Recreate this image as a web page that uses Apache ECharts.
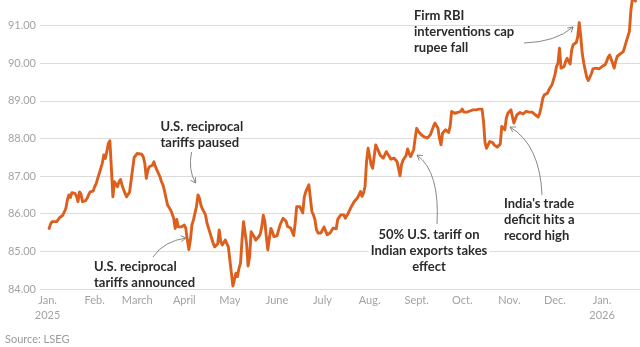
<!DOCTYPE html>
<html><head><meta charset="utf-8">
<script src="https://cdn.jsdelivr.net/npm/echarts@6/dist/echarts.min.js"></script>
<style>html,body{margin:0;padding:0;background:#fff}#c{width:640px;height:347px}</style>
</head><body><div id="c"></div>
<script>
// Day offsets counted from 2025-01-01 (trading days)
const dayOffsets = [1,2,3,6,7,8,9,10,12,13,14,15,16,17,18,19,20,21,22,23,24,25,26,27,28,30,31,32,33,34,35,36,37,38,39,40,41,42,43,44,45,46,47,48,49,50,51,52,53,54,55,56,57,59,60,62,63,64,65,66,67,69,70,71,72,73,74,75,76,77,78,79,81,82,83,84,85,86,87,88,89,90,91,92,93,94,95,96,97,98,99,100,101,102,103,104,105,106,107,108,109,110,111,112,113,114,115,116,117,118,119,120,121,122,123,124,125,126,127,128,129,130,131,132,133,134,135,136,137,138,139,140,141,142,143,144,145,146,147,148,149,150,151,152,153,154,155,156,157,158,160,161,162,163,164,165,166,167,168,169,170,171,172,173,174,175,176,177,178,179,180,181,182,183,184,185,186,188,189,190,191,193,194,195,196,197,198,199,200,201,202,203,204,206,207,208,209,210,211,212,213,214,215,216,217,218,219,220,221,222,223,224,225,226,227,228,229,230,231,232,233,234,235,236,237,238,239,240,241,242,243,244,245,246,247,248,250,251,252,253,254,255,256,257,258,259,260,261,262,263,264,265,266,267,268,269,270,271,272,273,274,275,276,277,278,279,280,281,282,284,285,286,287,288,289,290,291,292,293,294,295,296,297,298,299,300,301,302,303,304,305,306,307,308,309,310,311,312,313,314,315,316,317,318,319,320,321,322,323,324,325,326,327,328,329,330,331,332,333,334,335,336,337,338,339,340,341,342,343,344,345,346,347,348,349,350,351,352,353,354,355,356,357,358,359,361,362,363,364,365,366,367,368,369,370,371,372,373,374,375,376,377,378,379,380,381,382,383,384,385,387];
// Rupees per U.S. dollar
const rates = [85.61,85.73,85.79,85.79,85.83,85.90,85.87,85.96,86.14,86.36,86.50,86.43,86.56,86.58,86.54,86.47,86.32,86.58,86.52,86.32,86.34,86.35,86.41,86.50,86.58,86.60,86.72,86.80,86.94,87.07,87.12,87.34,87.56,87.47,87.65,87.87,87.94,87.20,86.45,86.85,86.80,86.72,86.85,86.91,86.76,86.73,86.54,86.45,86.47,86.58,86.89,87.20,87.50,87.60,87.60,87.58,87.51,87.34,86.94,87.16,87.25,87.29,87.38,87.25,87.16,87.07,86.98,86.85,86.76,86.60,86.41,86.23,86.10,86.00,85.88,85.61,85.85,85.65,85.67,85.65,85.65,85.70,85.61,85.30,85.05,85.30,85.70,85.83,85.88,86.19,86.50,86.41,86.22,86.12,86.05,85.96,85.74,85.61,85.48,85.35,85.21,85.12,85.08,85.20,85.57,85.26,85.17,85.21,85.30,85.26,85.12,84.77,84.42,84.08,84.25,84.42,84.33,84.55,84.68,85.30,85.79,85.74,85.20,84.61,84.86,85.52,85.57,85.39,85.30,85.34,85.39,85.46,85.65,85.96,85.80,85.39,85.04,85.35,85.61,85.52,85.39,85.35,85.41,85.43,85.70,85.66,85.88,85.93,85.80,85.66,85.62,85.58,85.42,85.75,86.19,86.22,86.19,86.24,86.02,86.45,86.59,86.68,86.77,86.75,86.06,85.97,85.84,85.58,85.49,85.47,85.49,85.53,85.65,85.60,85.44,85.40,85.49,85.62,85.66,85.60,85.85,85.97,86.02,85.97,85.88,85.93,86.02,86.11,86.19,86.24,86.33,86.37,86.42,86.59,86.46,86.55,86.73,87.40,87.74,87.52,87.30,87.21,87.52,87.83,87.88,87.65,87.55,87.50,87.48,87.52,87.65,87.70,87.52,87.45,87.48,87.48,87.45,87.39,87.21,87.01,87.30,87.42,87.42,87.55,87.72,87.60,87.52,87.57,87.70,88.01,88.27,88.19,88.14,88.10,88.07,88.04,88.01,88.05,88.10,88.05,88.32,88.41,88.36,88.27,88.00,87.83,88.14,88.19,88.23,88.19,88.16,88.32,88.72,88.76,88.67,88.70,88.69,88.70,88.72,88.78,88.70,88.67,88.70,88.72,88.73,88.74,88.76,88.78,88.76,88.78,88.79,88.78,88.45,87.88,87.74,87.83,87.92,87.95,87.89,87.83,87.79,87.77,87.79,87.85,88.32,88.36,88.23,88.54,88.67,88.70,88.76,88.78,88.41,88.45,88.63,88.67,88.69,88.65,88.65,88.67,88.72,88.67,88.70,88.73,88.70,88.69,88.63,88.58,88.57,88.67,88.85,89.07,89.16,89.12,89.20,89.29,89.36,89.42,89.45,89.69,89.91,90.00,90.40,89.87,89.82,89.91,90.04,90.13,90.09,89.98,90.35,90.49,90.51,90.55,90.70,91.08,90.71,90.25,90.00,89.80,89.62,89.54,89.58,89.72,89.85,89.87,89.88,89.85,89.82,89.91,89.90,89.96,90.04,90.16,90.22,90.18,90.00,89.87,90.05,90.18,90.22,90.25,90.27,90.31,90.44,90.58,90.71,90.84,91.40,91.72,91.65];
const monthKeys = ['2025-01','2025-02','2025-03','2025-04','2025-05','2025-06','2025-07','2025-08','2025-09','2025-10','2025-11','2025-12','2026-01'];
const monthLabels = ['Jan.\n2025','Feb.','March','April','May','June','July','Aug.','Sept.','Oct.','Nov.','Dec.','Jan.\n2026'];
const yMin = 84, yMax = 91.68, yStep = 1;

function iso(off){ return new Date(Date.UTC(2025,0,1+off)).toISOString().slice(0,10); }
const axisDays = [];
for (let o = -5; o <= 390; o++) axisDays.push(iso(o));
const labelMap = {};
monthKeys.forEach((k,i)=>{ labelMap[k] = monthLabels[i]; });
const seriesData = dayOffsets.map((o,i)=>[iso(o), rates[i]]);

const chart = echarts.init(document.getElementById('c'), null, {renderer:'canvas'});
const FONT = 'Lato, "Noto Sans", sans-serif';
const TXT = '#2b2b2b', ARW = '#7a7a7a';

function arrow(x1,y1,cx,cy,x2,y2){
  const dx = x2-cx, dy = y2-cy, L = Math.hypot(dx,dy), ux = dx/L, uy = dy/L;
  const nx = -uy, ny = ux, a = 5, w = 3;
  return [
    {type:'bezierCurve', z:100, shape:{x1,y1,x2,y2,cpx1:cx,cpy1:cy}, style:{stroke:ARW, lineWidth:0.9, fill:null}, silent:true},
    {type:'polyline', z:100, shape:{points:[[x2-a*ux+w*nx, y2-a*uy+w*ny],[x2,y2],[x2-a*ux-w*nx, y2-a*uy-w*ny]]}, style:{stroke:ARW, lineWidth:0.9, fill:null}, silent:true}
  ];
}
function label(text,x,y,align,bg){
  const st = {text, x, y, fill:TXT, font:'bold 13px '+FONT, lineHeight:16, align:align||'left', verticalAlign:'top'};
  if (bg) { st.backgroundColor = '#ffffff'; st.padding = [0,2]; }
  return {type:'text', z:100, style:st, silent:true};
}

chart.setOption({
  animation:false,
  grid:{left:40, right:0, top:0, bottom:58, containLabel:false},
  xAxis:{
    type:'category', data:axisDays, boundaryGap:false,
    axisLine:{show:false}, axisTick:{show:false},
    axisLabel:{
      interval:(i,v)=> v.endsWith('-01') && labelMap[v.slice(0,7)]!==undefined,
      formatter:(v)=> labelMap[v.slice(0,7)] || '',
      color:'#a3a3a3', fontSize:11, fontFamily:FONT, lineHeight:15, margin:4
    },
    splitLine:{show:false}
  },
  yAxis:{
    type:'value', min:yMin, max:yMax, interval:yStep,
    axisLine:{show:false}, axisTick:{show:false},
    axisLabel:{formatter:(v)=>v.toFixed(2), color:'#a3a3a3', fontSize:11, fontFamily:FONT, margin:4, showMaxLabel:false},
    splitLine:{show:true, showMaxLine:false, lineStyle:{color:'#dcdcdc', width:1}}
  },
  series:[{
    type:'line', data:seriesData, showSymbol:false, symbol:'none',
    lineStyle:{color:'#dc5f1d', width:2.9, cap:'round', join:'round'},
    clip:true
  }],
  graphic:[
    label('U.S. reciprocal\ntariffs paused',160.5,119),
    ...arrow(191.5,152,188,170,195.5,183),
    label('U.S. reciprocal\ntariffs announced',94,258.5),
    ...arrow(153,257,164,241,186,238),
    label('50% U.S. tariff on\nIndian exports takes\neffect',429,227,'center',true),
    ...arrow(437,224,440,172,417,155),
    label("India's trade\ndeficit hits a\nrecord high",504,196),
    ...arrow(542,195,540,145,510,127),
    label('Firm RBI\ninterventions cap\nrupee fall',414,8),
    ...arrow(524,43,556,42,573,27),
    {type:'text', z:100, style:{text:'Source: LSEG', x:5, y:334, fill:'#9a9a9a', font:'11px '+FONT, verticalAlign:'top'}, silent:true}
  ]
});
</script></body></html>
